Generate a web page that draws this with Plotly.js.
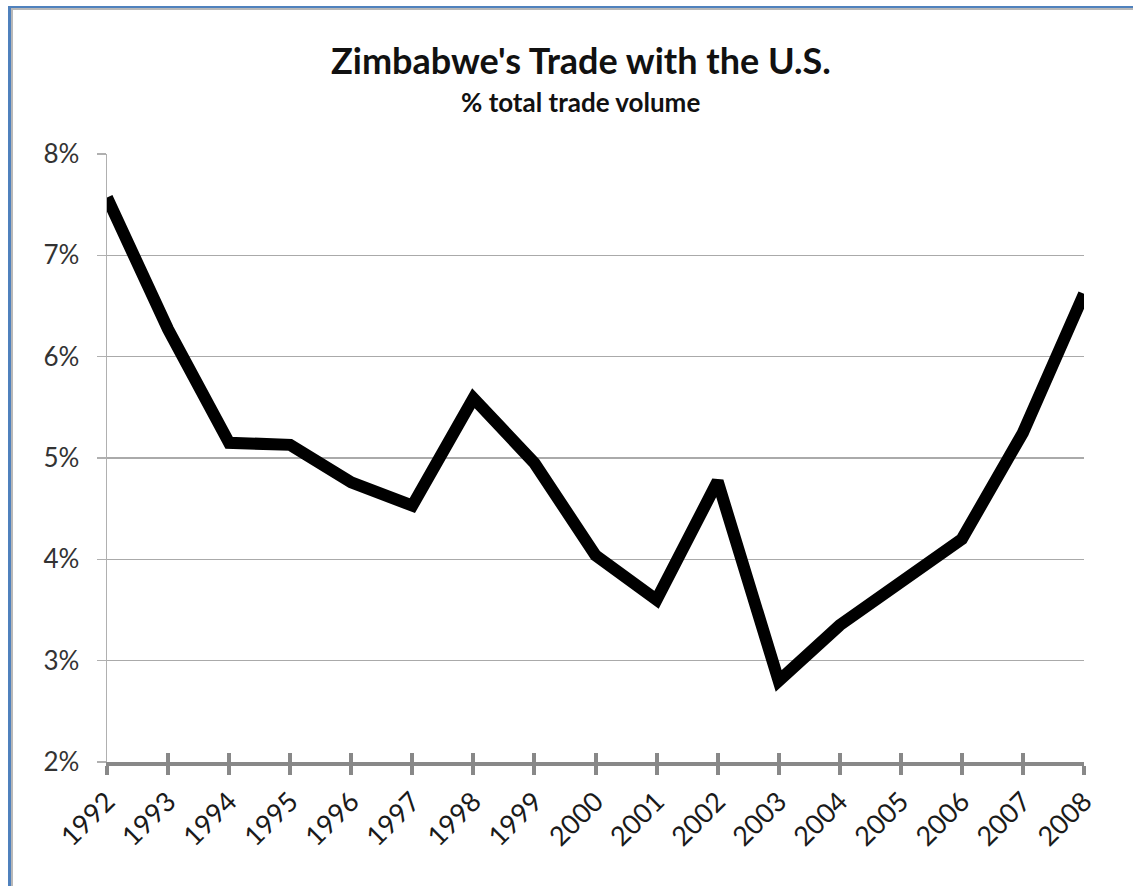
<!DOCTYPE html>
<html><head><meta charset="utf-8">
<script src="https://cdn.plot.ly/plotly-3.0.1.min.js"></script>
<style>
html,body{margin:0;padding:0;background:#fff;}
#chart{width:1133px;height:886px;position:absolute;left:0;top:0;}
#frame{position:absolute;left:8px;top:6px;width:1140px;height:900px;border-top:2px solid #4f81bd;border-left:3px solid #4f81bd;pointer-events:none;}
#frame2{position:absolute;left:11px;top:8px;width:1140px;height:900px;border-top:2px solid #b8b8b8;border-left:2px solid #b8b8b8;pointer-events:none;}
</style></head>
<body>
<div id="chart"></div>
<div id="frame"></div><div id="frame2"></div>
<script>
const years = [1992,1993,1994,1995,1996,1997,1998,1999,2000,2001,2002,2003,2004,2005,2006,2007,2008];
const sharePct = [7.57,6.27,5.15,5.13,4.76,4.53,5.59,4.95,4.04,3.6,4.77,2.8,3.35,3.78,4.2,5.25,6.62];
const yTicks = [2,3,4,5,6,7,8];
const yTickLabels = ['2%','3%','4%','5%','6%','7%','8%'];

const font = 'Lato, "Open Sans", sans-serif';
const data = [{
  x: years, y: sharePct, type: 'scatter', mode: 'lines',
  line: {color: '#000', width: 12, shape: 'linear'},
  hoverinfo: 'skip'
},{
  x: years, y: sharePct, xaxis: 'x2', type: 'scatter', mode: 'none', hoverinfo: 'skip', showlegend: false
}];
const layout = {
  width: 1133, height: 886,
  margin: {l: 107, r: 49, t: 154, b: 124},
  paper_bgcolor: '#fff', plot_bgcolor: '#fff',
  showlegend: false,
  font: {family: font, color: '#222'},
  xaxis: {
    range: [1992, 2008], tickvals: years, ticktext: years.map(String),
    tickangle: -45, tickfont: {size: 27, color: '#1a1a1a', family: font},
    showgrid: false, zeroline: false,
    showline: true, linecolor: '#888', linewidth: 4,
    ticks: 'outside', ticklen: 9, tickwidth: 4, tickcolor: '#888'
  },
  xaxis2: {
    overlaying: 'x', matches: 'x', side: 'bottom', anchor: 'y',
    range: [1992, 2008], tickvals: years, showticklabels: false,
    showgrid: false, zeroline: false, showline: false,
    ticks: 'inside', ticklen: 9, tickwidth: 4, tickcolor: '#888'
  },
  yaxis: {
    range: [2, 8], tickvals: yTicks, ticktext: yTickLabels,
    tickfont: {size: 26, color: '#333', family: font},
    ticklabelstandoff: 12,
    showgrid: true, gridcolor: '#aaaaaa', gridwidth: 1.5,
    zeroline: false, showline: true, linecolor: '#b0b0b0', linewidth: 1.5,
    ticks: 'outside', ticklen: 9, tickwidth: 1.5, tickcolor: '#b0b0b0'
  },
  annotations: [
    {text: "<b>Zimbabwe's Trade with the U.S.</b>", xref: 'paper', yref: 'paper',
     x: 0.485, y: 1.0 + (154 - 60) / 608, xanchor: 'center', yanchor: 'middle', showarrow: false,
     font: {size: 36, color: '#111', family: font}},
    {text: '<b>% total trade volume</b>', xref: 'paper', yref: 'paper',
     x: 0.485, y: 1.0 + (154 - 102) / 608, xanchor: 'center', yanchor: 'middle', showarrow: false,
     font: {size: 26, color: '#111', family: font}}
  ]
};
Plotly.newPlot('chart', data, layout, {displayModeBar: false, staticPlot: true});
</script>
</body></html>
